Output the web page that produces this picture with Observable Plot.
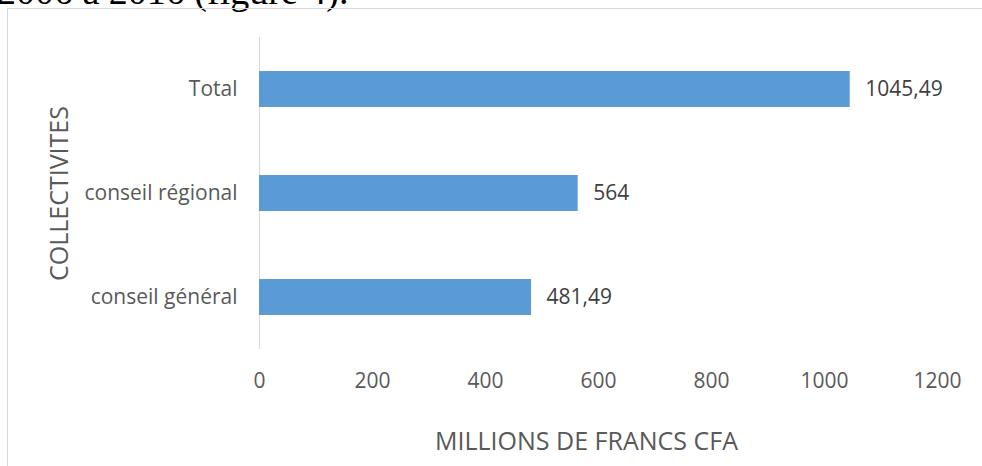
<!DOCTYPE html>
<html><head><meta charset="utf-8">
<script src="https://cdn.jsdelivr.net/npm/d3@7"></script>
<script src="https://cdn.jsdelivr.net/npm/@observablehq/plot@0.6"></script>
<style>
body{margin:0;background:#fff;width:982px;height:466px;overflow:hidden;position:relative;}
#top{position:absolute;left:-3px;top:-28px;font:38px/38px "Liberation Serif",serif;color:#000;white-space:nowrap;}
#frame{position:absolute;left:7px;top:8px;width:1000px;height:500px;border:1px solid #d9d9d9;box-sizing:border-box;pointer-events:none}
#chart{position:absolute;left:0;top:0}
</style></head><body>
<div id="top">2006 à 2016 (figure 4).</div>
<div id="chart"></div>
<div id="frame"></div>
<script>
const categories = ["Total", "conseil régional", "conseil général"];
const values = [1045.49, 564, 481.49];
const xTicks = [0, 200, 400, 600, 800, 1000, 1200];
const xTitle = "MILLIONS DE FRANCS CFA";
const yTitle = "COLLECTIVITES";

const fmt = v => String(v).replace(".", ",");
const data = categories.map((c, i) => ({category: c, value: values[i]}));

const chart = Plot.plot({
  width: 982, height: 466,
  marginLeft: 259, marginRight: 45, marginTop: 37, marginBottom: 117,
  style: {fontFamily: '"Open Sans", sans-serif', fontSize: "21px", color: "#595959", background: "transparent", overflow: "visible"},
  x: {domain: [0, 1200], ticks: xTicks, tickFormat: d => String(d), tickSize: 0, tickPadding: 24, label: null},
  y: {domain: categories, paddingInner: 0.654, paddingOuter: 0.327, tickSize: 0, tickPadding: 22, label: null},
  marks: [
    Plot.ruleX([0], {stroke: "#d9d9d9", strokeWidth: 1}),
    Plot.barX(data, {x: "value", y: "category", fill: "#5B9BD5"}),
    Plot.text(data, {x: "value", y: "category", text: d => fmt(d.value), textAnchor: "start", dx: 15, fill: "#404040", fontSize: 21}),
    Plot.text([xTitle], {frameAnchor: "bottom", textAnchor: "middle", lineAnchor: "middle", dy: 92, dx: -12, fontSize: 25, fill: "#595959"}),
    Plot.text([yTitle], {frameAnchor: "left", textAnchor: "middle", lineAnchor: "middle", dx: -200, rotate: -90, fontSize: 25, fill: "#595959"})
  ]
});
document.getElementById("chart").appendChild(chart);
</script>
</body></html>
